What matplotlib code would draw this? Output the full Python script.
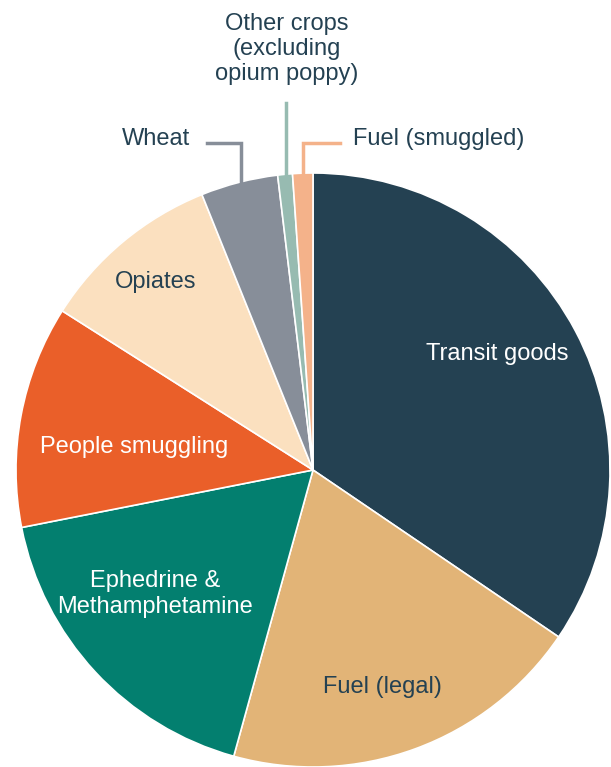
import matplotlib.pyplot as plt

labels = ["Transit goods", "Fuel (legal)", "Ephedrine &\nMethamphetamine",
          "People smuggling", "Opiates", "Wheat",
          "Other crops\n(excluding\nopium poppy)", "Fuel (smuggled)"]
shares = [34.5, 19.8, 17.6, 12.1, 9.9, 4.2, 0.8, 1.1]
colors = ["#244152", "#e2b477", "#037f6f", "#ea5f29", "#fbe0bf",
          "#878e99", "#97bbb1", "#f4b28a"]

W, H = 611, 767
dark = "#244152"
plt.rcParams['font.family'] = ['Liberation Sans', 'DejaVu Sans']

fig = plt.figure(figsize=(W / 100, H / 100), dpi=100)
ax = fig.add_axes([0, 0, 1, 1])

cx, cy, r = 313, H - 470, 297
ax.pie(shares, colors=colors, startangle=90, counterclock=False,
       center=(cx, cy), radius=r, frame=True,
       wedgeprops=dict(edgecolor="white", linewidth=1.2))
ax.set_xlim(0, W)
ax.set_ylim(0, H)
ax.set_aspect("equal")
ax.axis("off")

fs = 17
# labels inside wedges
inside = [(497, 354, "white"), (382, 687, dark), (155, 594, "white"),
          (134, 447, "white"), (156, 282, dark)]
for (px, py, c), lab in zip(inside, labels[:5]):
    ax.text(px, H - py, lab, ha="center", va="center", color=c,
            fontsize=fs, linespacing=1.18)

# outside labels with leader lines
ax.plot([241, 241, 207], [H - 182, H - 143, H - 143], color=colors[5], lw=2.5,
        solid_joinstyle="miter")
ax.text(190, H - 139, labels[5], ha="right", va="center", color=dark, fontsize=fs)

ax.plot([286, 286], [H - 174, H - 103], color=colors[6], lw=2.5)
ax.text(287, H - 49, labels[6], ha="center", va="center", color=dark,
        fontsize=fs, linespacing=1.2)

ax.plot([303, 303, 340], [H - 176, H - 143, H - 143], color=colors[7], lw=2.5,
        solid_joinstyle="miter")
ax.text(353, H - 139, labels[7], ha="left", va="center", color=dark, fontsize=fs)

fig.savefig("out.png", dpi=100)
